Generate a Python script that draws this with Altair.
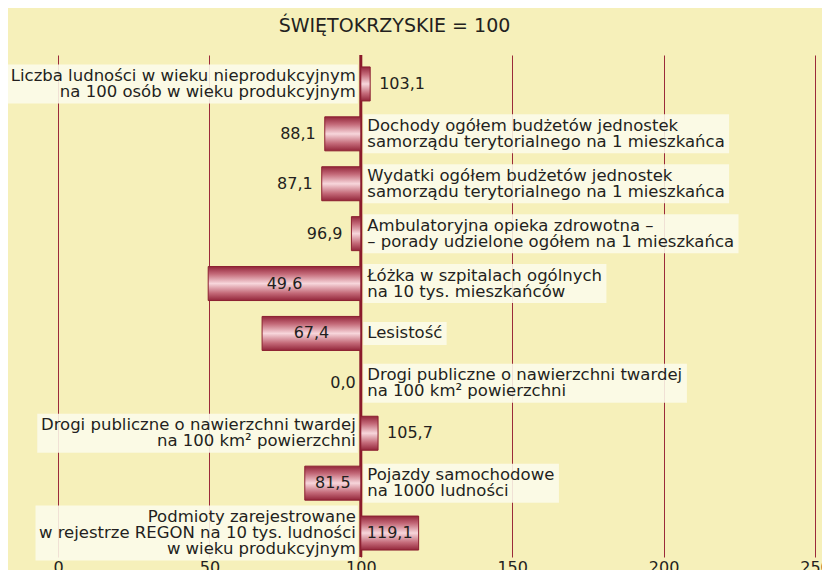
import altair as alt
import pandas as pd

# ---------------- data ----------------
labels = [
    "Liczba ludności w wieku nieprodukcyjnym\nna 100 osób w wieku produkcyjnym",
    "Dochody ogółem budżetów jednostek\nsamorządu terytorialnego na 1 mieszkańca",
    "Wydatki ogółem budżetów jednostek\nsamorządu terytorialnego na 1 mieszkańca",
    "Ambulatoryjna opieka zdrowotna –\n– porady udzielone ogółem na 1 mieszkańca",
    "Łóżka w szpitalach ogólnych\nna 10 tys. mieszkańców",
    "Lesistość",
    "Drogi publiczne o nawierzchni twardej\nna 100 km² powierzchni",
    "Drogi publiczne o nawierzchni twardej\nna 100 km² powierzchni",
    "Pojazdy samochodowe\nna 1000 ludności",
    "Podmioty zarejestrowane\nw rejestrze REGON na 10 tys. ludności\nw wieku produkcyjnym",
]
values = [103.1, 88.1, 87.1, 96.9, 49.6, 67.4, 0.0, 105.7, 81.5, 119.1]
ticks = [0, 50, 100, 150, 200, 250]
BASE = 100
title_text = "ŚWIĘTOKRZYSKIE = 100"

# ---------------- layout helpers ----------------
W, H = 757, 502
XDOM = [0, 250]
YDOM = [-0.58, 9.48]
PXU = W / (XDOM[1] - XDOM[0])
PXY = H / (YDOM[1] - YDOM[0])
FONT = "DejaVu Sans"
FS = 16.5
LH = 16

_wid = {
    " ": .318, "a": .613, "b": .635, "c": .550, "d": .635, "e": .615, "f": .352,
    "g": .635, "h": .634, "i": .278, "j": .278, "k": .579, "l": .278, "m": .974,
    "n": .634, "o": .612, "p": .635, "r": .411, "s": .521, "t": .392, "u": .634,
    "v": .592, "w": .818, "y": .592, "z": .525, "ą": .613, "ę": .615, "ł": .29,
    "ń": .634, "ó": .612, "ś": .521, "ż": .525, "ź": .525, "ć": .550,
    "A": .684, "D": .770, "E": .632, "G": .775, "L": .557, "Ł": .562, "N": .748,
    "O": .787, "P": .603, "R": .695, "W": .989, ",": .318, ".": .318, "–": .5,
    "²": .401,
}


def text_w(s):
    return FS * sum(_wid.get(ch, .636 if ch.isdigit() else .6) for ch in s)


rows = []
for i, (lab, v) in enumerate(zip(labels, values)):
    lines = lab.split("\n")
    n = len(lines)
    tw = max(text_w(l) for l in lines)
    vt = f"{v:.1f}".replace(".", ",")
    vw = text_w(vt)
    side = "left" if v > BASE else "right"
    if side == "left":
        bx1 = BASE - (5 + tw + 3) / PXU
        bx2 = BASE - 3 / PXU
    else:
        bx1 = BASE + 2.5 / PXU
        bx2 = BASE + (6.5 + tw + 4) / PXU
    hh = 8 * (n - 1) + 11.5
    barpx = abs(v - BASE) * PXU
    if v == 0:
        place = "zero"
    elif barpx >= vw + 8:
        place = "inside"
    elif v > BASE:
        place = "rout"
    else:
        place = "lout"
    rows.append(dict(
        idx=i, label=lab, value=v, vtxt=vt, side=side, base=BASE,
        mid=(v + BASE) / 2, bx1=bx1, bx2=bx2,
        by1=i - hh / PXY, by2=i + hh / PXY,
        ty=i - (n - 1) * LH / 2 / PXY,
        b1=i - 17 / PXY, b2=i + 17 / PXY, place=place,
    ))
df = pd.DataFrame(rows)

xscale = alt.Scale(domain=XDOM, nice=False, zero=False)
yscale = alt.Scale(domain=YDOM, reverse=True, nice=False, zero=False)
xaxis = alt.Axis(values=ticks, grid=True, gridColor="#9B2A3A", gridWidth=1,
                 domain=False, ticks=False, labelFontSize=16, labelFont=FONT,
                 labelColor="#231F20", labelPadding=2, title=None,
                 labelFlush=False)

base = alt.Chart(df)
TXT = "#231F20"

boxes = base.mark_rect(color="#FCFAEA", opacity=0.88).encode(
    x=alt.X("bx1:Q", scale=xscale, axis=xaxis),
    x2="bx2:Q",
    y=alt.Y("by1:Q", scale=yscale, axis=None),
    y2="by2:Q",
)

axis100 = alt.Chart(pd.DataFrame({"v": [BASE]})).mark_rule(
    color="#8B1A2A", strokeWidth=3).encode(x=alt.X("v:Q", scale=xscale, axis=xaxis))

grad = alt.Gradient(
    gradient="linear", x1=0, x2=0, y1=0, y2=1,
    stops=[
        alt.GradientStop(color="#93263A", offset=0),
        alt.GradientStop(color="#C46A79", offset=0.22),
        alt.GradientStop(color="#F7D6DB", offset=0.5),
        alt.GradientStop(color="#C46A79", offset=0.78),
        alt.GradientStop(color="#93263A", offset=1),
    ],
)
bars = base.transform_filter("datum.value > 0").mark_bar(
    color=grad, stroke="#8B1F30", strokeWidth=1).encode(
    x=alt.X("value:Q", scale=xscale, axis=xaxis),
    x2="base:Q",
    y=alt.Y("b1:Q", scale=yscale, axis=None),
    y2="b2:Q",
)

cat_left = base.transform_filter("datum.side == 'left'").mark_text(
    align="right", baseline="middle", dx=-5, font=FONT, fontSize=FS,
    lineHeight=LH, lineBreak="\n", color=TXT).encode(
    x=alt.X("base:Q", scale=xscale, axis=xaxis),
    y=alt.Y("ty:Q", scale=yscale, axis=None), text="label:N")

cat_right = base.transform_filter("datum.side == 'right'").mark_text(
    align="left", baseline="middle", dx=6.5, font=FONT, fontSize=FS,
    lineHeight=LH, lineBreak="\n", color=TXT).encode(
    x=alt.X("base:Q", scale=xscale, axis=xaxis),
    y=alt.Y("ty:Q", scale=yscale, axis=None), text="label:N")


def vlabel(place, field, align, dx):
    return base.transform_filter(f"datum.place == '{place}'").mark_text(
        align=align, baseline="middle", dx=dx, font=FONT, fontSize=16,
        color=TXT).encode(
        x=alt.X(f"{field}:Q", scale=xscale, axis=xaxis),
        y=alt.Y("idx:Q", scale=yscale, axis=None), text="vtxt:N")


v_in = vlabel("inside", "mid", "center", 0)
v_rout = vlabel("rout", "value", "left", 9)
v_lout = vlabel("lout", "value", "right", -9)
v_zero = vlabel("zero", "base", "right", -5)

chart = alt.layer(
    boxes, axis100, bars, cat_left, cat_right, v_in, v_rout, v_lout, v_zero
).properties(
    width=W, height=H,
    autosize="none",
    padding={"left": 50, "top": 47, "right": 7, "bottom": 13},
    background="#F6F0BA",
    title=alt.TitleParams(title_text, fontSize=19, font=FONT,
                          fontWeight="normal", color=TXT, anchor="middle",
                          dx=-42, offset=18),
).configure_view(stroke=None)

chart.save("out.html", embed_options={"renderer": "svg", "actions": False})
